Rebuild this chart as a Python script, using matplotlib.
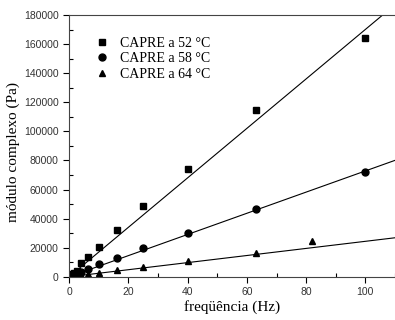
import numpy as np
import matplotlib
matplotlib.use('Agg')
import matplotlib.pyplot as plt
from matplotlib.ticker import MultipleLocator

# frequências de ensaio (Hz)
freq = [0.1, 0.16, 0.25, 0.4, 0.63, 1.0, 1.6, 2.5, 4.0, 6.3, 10, 16, 25, 40, 63, 100]
freq_64 = [0.1, 0.16, 0.25, 0.4, 0.63, 1.0, 1.6, 2.5, 4.0, 6.3, 10, 16, 25, 40, 63, 82]

# módulo complexo (Pa)
g_52 = [170, 280, 430, 680, 1070, 1700, 2700, 4200, 9200, 13800, 20600, 31900, 48400, 73900, 114600, 164400]
g_58 = [75, 120, 185, 295, 460, 730, 1170, 2300, 3500, 5500, 8500, 12900, 19700, 30300, 46400, 72000]
g_64 = [25, 40, 60, 100, 155, 245, 390, 610, 1000, 1800, 2800, 4400, 6900, 10800, 16300, 24500]

# retas ajustadas (inclinação em Pa/Hz, intercepto em Pa)
inclinacao = [1701, 728, 244]
intercepto = [0, 0, 0]

rotulos = ['CAPRE a 52 °C', 'CAPRE a 58 °C', 'CAPRE a 64 °C']
marcadores = ['s', 'o', '^']

fig = plt.figure(figsize=(3.95, 3.2), dpi=100)
ax = fig.add_axes([0.175, 0.135, 0.825, 0.818])

series = [(freq, g_52), (freq, g_58), (freq_64, g_64)]
xr = np.array([0, 110])
for (x, y), m, r, a, b in zip(series, marcadores, rotulos, inclinacao, intercepto):
    ax.plot(x, y, linestyle='none', marker=m, color='black', markersize=5, label=r)
    ax.plot(xr, a * xr + b, color='black', linewidth=0.8)

ax.set_xlim(0, 110)
ax.set_ylim(0, 180000)
ax.xaxis.set_major_locator(MultipleLocator(20))
ax.xaxis.set_minor_locator(MultipleLocator(10))
ax.yaxis.set_major_locator(MultipleLocator(20000))
ax.yaxis.set_minor_locator(MultipleLocator(10000))
ax.tick_params(which='major', direction='out', length=4, width=0.8, labelsize=7.5,
               labelfontfamily='Liberation Sans', labelcolor='#333333')
ax.tick_params(which='minor', direction='in', length=3, width=0.8)
ax.spines['right'].set_visible(False)
for s in ['left', 'bottom', 'top']:
    ax.spines[s].set_color('#444444')

ax.set_xlabel('freqüência (Hz)', family='Liberation Serif', fontsize=11)
ax.xaxis.set_label_coords(0.5, -0.09)
ax.set_ylabel('módulo complexo (Pa)', family='Liberation Serif', fontsize=11)
ax.yaxis.set_label_coords(-0.15, 0.475)

ax.legend(loc='upper left', bbox_to_anchor=(0.05, 0.955), frameon=False,
          prop={'family': 'Liberation Serif', 'size': 10}, handletextpad=0.8,
          labelspacing=0.2, handlelength=1.0, borderpad=0.2)

fig.savefig('out.png', dpi=100)
